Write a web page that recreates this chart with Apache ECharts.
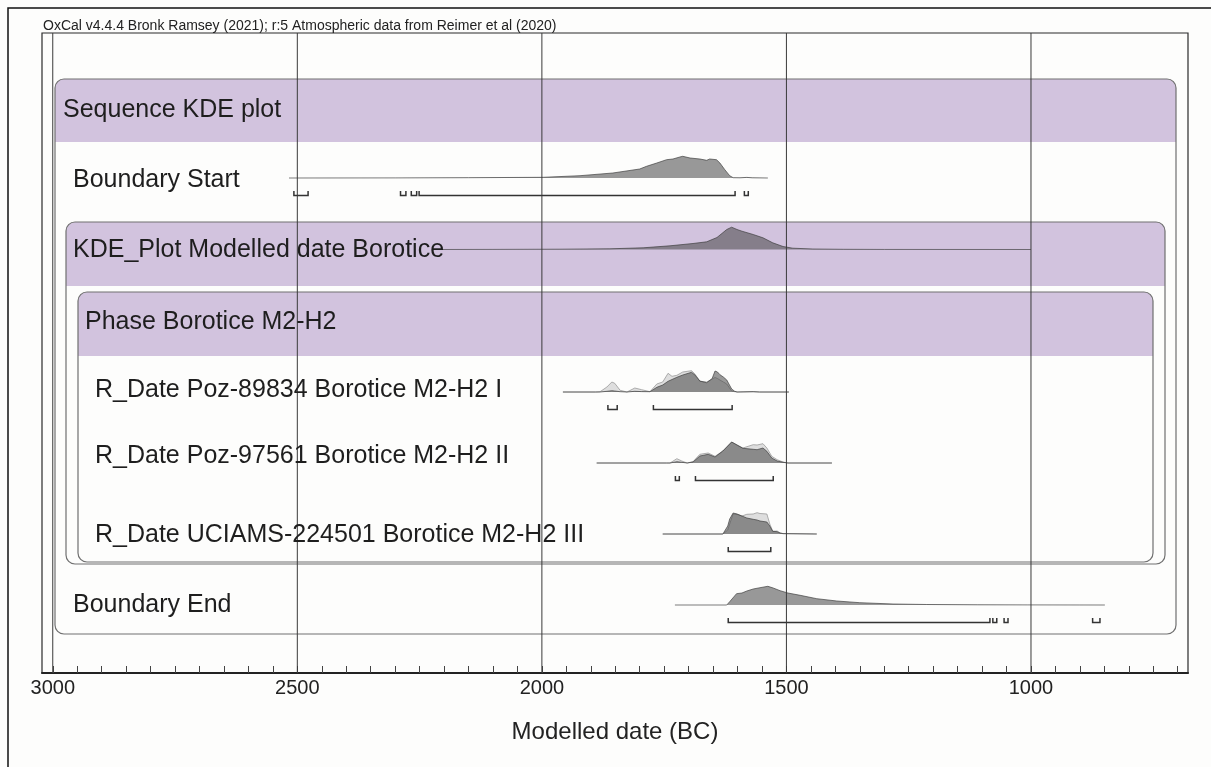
<!DOCTYPE html>
<html>
<head>
<meta charset="utf-8">
<script src="https://cdn.jsdelivr.net/npm/echarts@6/dist/echarts.min.js"></script>
<style>
html, body { margin: 0; padding: 0; background: #fdfdfc; }
#chart { width: 1211px; height: 767px; }
</style>
</head>
<body>
<div id="chart"></div>
<script>
// axis
var axisMin = 679;
var axisMax = 3022;
var majorTicks = [3000, 2500, 2000, 1500, 1000];
var minorTicks = [];
for (var t = 700; t <= 3000; t += 50) minorTicks.push(t);

var header = 'OxCal v4.4.4 Bronk Ramsey (2021); r:5 Atmospheric data from Reimer et al (2020)';
var axisTitle = 'Modelled date (BC)';
var rowLabels = ['Sequence KDE plot', 'Boundary Start', 'KDE_Plot Modelled date Borotice', 'Phase Borotice M2-H2',
  'R_Date Poz-89834 Borotice M2-H2 I', 'R_Date Poz-97561 Borotice M2-H2 II', 'R_Date UCIAMS-224501 Borotice M2-H2 III', 'Boundary End'];

// Boundary Start
var startYears = [2517, 2300, 2150, 1997, 1922, 1855, 1800, 1786, 1765, 1745, 1732, 1718, 1712, 1697, 1677, 1663, 1657, 1643, 1636, 1626, 1616, 1609, 1595, 1581, 1570, 1538];
var startDens  = [0, 0.1, 0.3, 0.7, 2.3, 5, 9, 11.7, 15, 18.3, 19, 21, 21.7, 20, 19, 17.7, 19, 18.3, 15, 8.3, 2.3, 0.3, 0.2, 0.6, 0.2, 0];
var startRanges = [[2507, 2478], [2289, 2278], [2267, 2256], [2251, 1605], [1586, 1578]];

// KDE_Plot
var kdeYears = [2220, 2100, 1963, 1861, 1793, 1738, 1691, 1663, 1642, 1622, 1612, 1601, 1591, 1568, 1548, 1528, 1507, 1487, 1446, 1384, 1300, 1000];
var kdeDens  = [0, 0.1, 0.3, 0.7, 1.7, 3.7, 6, 7.7, 12, 20, 22.3, 20, 18.3, 15, 11.7, 6.7, 3, 1.3, 0.5, 0.2, 0.05, 0];

// R_Date Poz-89834
var r1Years = [1957, 1890, 1881, 1867, 1857, 1851, 1840, 1826, 1810, 1796, 1779, 1765, 1753, 1742, 1734, 1724, 1712, 1694, 1687, 1677, 1663, 1652, 1646, 1641, 1636, 1629, 1622, 1612, 1606, 1601, 1568, 1555, 1495];
var r1Prior = [0, 0, 0.3, 5, 10, 8.7, 1.7, 0, 4, 2.3, 0.3, 8, 10, 18.7, 15.7, 16.7, 20, 21.3, 18, 10.7, 10, 13, 14.5, 13.5, 12, 10, 8, 1, 0.3, 0, 0.3, 0, 0];
var r1Post  = [0, 0, 0, 0.7, 1.3, 1, 0.3, 0, 0.7, 0.4, 0.3, 4.7, 7, 10.7, 12.5, 14.7, 17, 19.7, 17, 11, 9.3, 13.3, 21, 20, 17.3, 15, 12, 3, 0.8, 0, 0.3, 0, 0];
var r1Ranges = [[1865, 1846], [1772, 1611]];

// R_Date Poz-97561
var r2Years = [1888, 1745, 1738, 1724, 1714, 1703, 1691, 1677, 1660, 1646, 1630, 1612, 1601, 1589, 1568, 1560, 1548, 1540, 1530, 1519, 1507, 1497, 1407];
var r2Prior = [0, 0, 0, 4.3, 2, 0, 1.3, 8.7, 10, 6.7, 12, 21, 18, 15, 18.3, 18, 19.3, 15, 6.7, 3.3, 1, 0, 0];
var r2Post  = [0, 0, 0, 1.3, 0.7, 0, 1, 7, 8.7, 6, 12, 21, 18, 14.7, 13.7, 13.3, 15, 11.7, 5, 2, 0.7, 0, 0];
var r2Ranges = [[1727, 1719], [1686, 1527]];

// R_Date UCIAMS-224501
var r3Years = [1753, 1630, 1626, 1620, 1616, 1609, 1601, 1591, 1581, 1568, 1560, 1554, 1550, 1540, 1534, 1528, 1519, 1513, 1507, 1503, 1438];
var r3Prior = [0, 0, 0, 4, 10, 20, 19.7, 18, 19.7, 20, 21.3, 20.5, 20, 20, 10, 2.7, 3, 1, 0.5, 0, 0];
var r3Post  = [0, 0, 0, 8, 15, 21, 20, 18, 16, 14.7, 14, 13, 12.8, 12, 8, 2.7, 2.3, 1, 0.3, 0, 0];
var r3Ranges = [[1619, 1532]];

// Boundary End
var endYears = [1728, 1622, 1616, 1602, 1591, 1581, 1568, 1554, 1538, 1527, 1513, 1497, 1472, 1438, 1397, 1350, 1282, 1213, 1110, 1008, 900, 849];
var endDens  = [0, 0, 3.3, 11.3, 12, 14, 16, 17.3, 18.7, 17, 14.3, 12, 9.7, 6.3, 4, 2.3, 1, 0.5, 0.2, 0.1, 0.03, 0];
var endRanges = [[1619, 1084], [1078, 1070], [1055, 1047], [874, 859]];

var font = '"Liberation Sans", Arial, sans-serif';
var purple = '#d2c3de';
var boxLine = '#707070';
var postFill = 'rgba(70,70,70,0.55)';
var priorFill = '#dedede';

function pairs(xs, ys) {
  return xs.map(function (x, i) { return [x, ys[i]]; });
}

let myChart = echarts.init(document.getElementById('chart'));

// rows: baseline pixel of each distribution
var rows = [
  { base: 178, post: pairs(startYears, startDens), ranges: startRanges },
  { base: 249.5, post: pairs(kdeYears, kdeDens) },
  { base: 392, prior: pairs(r1Years, r1Prior), post: pairs(r1Years, r1Post), ranges: r1Ranges },
  { base: 463, prior: pairs(r2Years, r2Prior), post: pairs(r2Years, r2Post), ranges: r2Ranges },
  { base: 534, prior: pairs(r3Years, r3Prior), post: pairs(r3Years, r3Post), ranges: r3Ranges },
  { base: 605, post: pairs(endYears, endDens), ranges: endRanges }
];

var grids = [{ left: 42, right: 23, top: 33, bottom: 94, show: true, borderColor: '#2a2a2a', borderWidth: 1.2, backgroundColor: 'transparent' }];
var xAxes = [{
  type: 'value', gridIndex: 0, min: axisMin, max: axisMax, inverse: true,
  name: axisTitle, nameLocation: 'middle', nameGap: 47,
  nameTextStyle: { fontSize: 24, color: '#222', fontFamily: font },
  axisLine: { show: true, lineStyle: { color: '#222', width: 2 } },
  axisTick: { show: true, inside: true, length: 7, customValues: minorTicks, lineStyle: { color: '#444', width: 1 } },
  axisLabel: {
    customValues: majorTicks, fontSize: 20, color: '#222', fontFamily: font, margin: 5,
    formatter: function (v) { return String(v); }
  },
  splitLine: { show: false }
}];
var yAxes = [{ type: 'value', gridIndex: 0, min: 0, max: 1, show: false }];
var series = [];

// major grid lines through the whole plot
series.push({
  type: 'custom', xAxisIndex: 0, yAxisIndex: 0, z: 25, silent: true,
  data: majorTicks.map(function (v) { return [v, 0]; }),
  encode: { x: 0, y: 1 },
  renderItem: function (params, api) {
    var a = api.coord([api.value(0), 0]);
    var b = api.coord([api.value(0), 1]);
    return { type: 'line', shape: { x1: a[0], y1: a[1], x2: b[0], y2: b[1] }, style: { stroke: '#3a3a3a', lineWidth: 1 } };
  }
});

rows.forEach(function (row, i) {
  var gi = i + 1;
  grids.push({ left: 42, right: 23, top: row.base - 26, height: 48 });
  xAxes.push({ type: 'value', gridIndex: gi, min: axisMin, max: axisMax, inverse: true, show: false });
  yAxes.push({ type: 'value', gridIndex: gi, min: -22, max: 26, show: false });
  if (row.prior) {
    series.push({
      type: 'line', xAxisIndex: gi, yAxisIndex: gi, data: row.prior, showSymbol: false, z: 10, silent: true,
      lineStyle: { color: '#9a9a9a', width: 0.8 },
      areaStyle: { color: priorFill, opacity: 1, origin: 'auto' }
    });
  }
  series.push({
    type: 'line', xAxisIndex: gi, yAxisIndex: gi, data: row.post, showSymbol: false, z: 12, silent: true,
    lineStyle: { color: 'rgba(60,60,60,0.75)', width: 0.9 },
    areaStyle: { color: postFill, opacity: 1, origin: 'auto' }
  });
  if (row.ranges) {
    series.push({
      type: 'custom', xAxisIndex: gi, yAxisIndex: gi, z: 12, silent: true,
      data: row.ranges.map(function (r) { return [r[0], r[1], 0]; }),
      encode: { x: [0, 1], y: 2 },
      renderItem: function (params, api) {
        var a = api.coord([api.value(0), 0]);
        var b = api.coord([api.value(1), 0]);
        var y = a[1] + 17.5;
        return {
          type: 'polyline',
          shape: { points: [[a[0], y - 4.5], [a[0], y], [b[0], y], [b[0], y - 4.5]] },
          style: { stroke: '#333', fill: null, lineWidth: 1.5 }
        };
      }
    });
  }
});

// nested boxes of the model structure
var boxes = [
  { x: 55, y: 79, w: 1121, h: 555, band: 63 },
  { x: 66, y: 222, w: 1099, h: 342, band: 64 },
  { x: 78, y: 292, w: 1075, h: 270, band: 64 }
];
var graphics = [{
  type: 'polyline', z: 1, silent: true,
  shape: { points: [[8, 767], [8, 8], [1211, 8]] },
  style: { stroke: '#111', lineWidth: 1.5, fill: null }
}];
boxes.forEach(function (b, i) {
  graphics.push({ type: 'rect', z: 2 + i, silent: true, shape: { x: b.x, y: b.y, width: b.w, height: b.h, r: 9 }, style: { fill: '#fdfdfc' } });
  graphics.push({ type: 'rect', z: 2 + i, silent: true, shape: { x: b.x, y: b.y, width: b.w, height: b.band, r: [9, 9, 0, 0] }, style: { fill: purple } });
  graphics.push({ type: 'rect', z: 2 + i, silent: true, shape: { x: b.x, y: b.y, width: b.w, height: b.h, r: 9 }, style: { fill: null, stroke: boxLine, lineWidth: 1.2 } });
});

var labelPos = [[63, 110], [73, 180], [73, 250], [85, 322], [95, 390], [95, 456], [95, 535], [73, 605]];
rowLabels.forEach(function (txt, i) {
  graphics.push({
    type: 'text', z: 30, silent: true, x: labelPos[i][0], y: labelPos[i][1],
    style: { text: txt, fill: '#1e1e1e', font: '25px ' + font, verticalAlign: 'middle', align: 'left' }
  });
});
graphics.push({
  type: 'text', z: 30, silent: true, x: 43, y: 26,
  style: { text: header, fill: '#222', font: '14px ' + font, verticalAlign: 'middle', align: 'left' }
});

let option = {
  backgroundColor: '#fdfdfc',
  animation: false,
  grid: grids,
  xAxis: xAxes,
  yAxis: yAxes,
  graphic: { elements: graphics },
  series: series
};

myChart.setOption(option);
</script>
</body>
</html>
